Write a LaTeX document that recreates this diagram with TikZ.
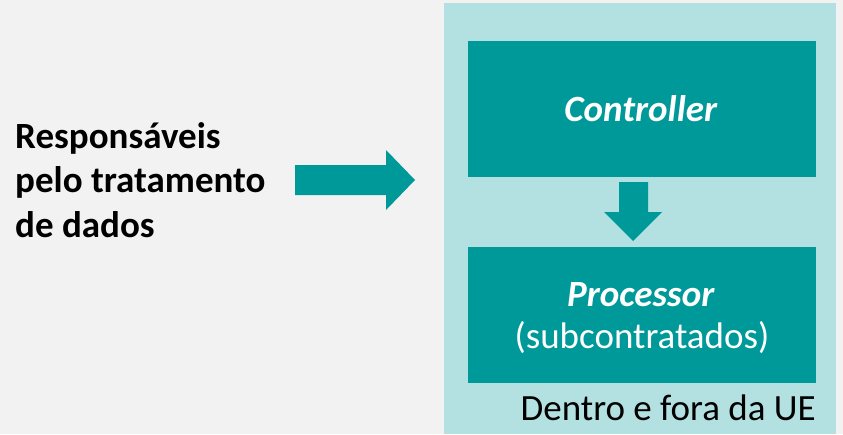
\documentclass[tikz,border=0pt]{standalone}
\usepackage{fontspec}
\setmainfont{Carlito}
\definecolor{bgc}{HTML}{F2F2F2}
\definecolor{tealdark}{HTML}{009999}
\definecolor{teallight}{HTML}{B3E0E0}
\begin{document}
\begin{tikzpicture}[x=1pt,y=-1pt,
  darkbox/.style={fill=tealdark,draw=none},
  arrowshape/.style={fill=tealdark,draw=none},
  wtext/.style={text=white,inner sep=0pt,anchor=base},
  bigfont/.style={font=\fontsize{37}{38}\selectfont}]
\useasboundingbox (0,0) rectangle (843,434);
\fill[bgc] (0,0) rectangle (843,434);
\fill[teallight] (444,3) rectangle (836,434);
\fill[darkbox] (468,41) rectangle (816,177);
\fill[darkbox] (468,247) rectangle (816,383);
\node[wtext,bigfont] (ctrl) at (641,121) {\textbf{\textit{Controller}}};
\node[wtext,bigfont] (proc) at (641,306) {\textbf{\textit{Processor}}};
\node[wtext,bigfont] (sub) at (642,348.5) {(subcontratados)};
\node[anchor=base east,bigfont,inner sep=0pt] (ue) at (816,420) {Dentro e fora da UE};
\node[anchor=base west,inner sep=0pt,bigfont] (r1) at (15,148) {\textbf{Responsáveis}};
\node[anchor=base west,inner sep=0pt,bigfont] (r2) at (15,192.5) {\textbf{pelo tratamento}};
\node[anchor=base west,inner sep=0pt,bigfont] (r3) at (15,237) {\textbf{de dados}};
\fill[arrowshape] (295,165) -- (386,165) -- (386,150) -- (415,180) -- (386,210) -- (386,195) -- (295,195) -- cycle;
\fill[arrowshape] (619,182) -- (648,182) -- (648,212) -- (662,212) -- (633,241) -- (604,212) -- (619,212) -- cycle;
\end{tikzpicture}
\end{document}
